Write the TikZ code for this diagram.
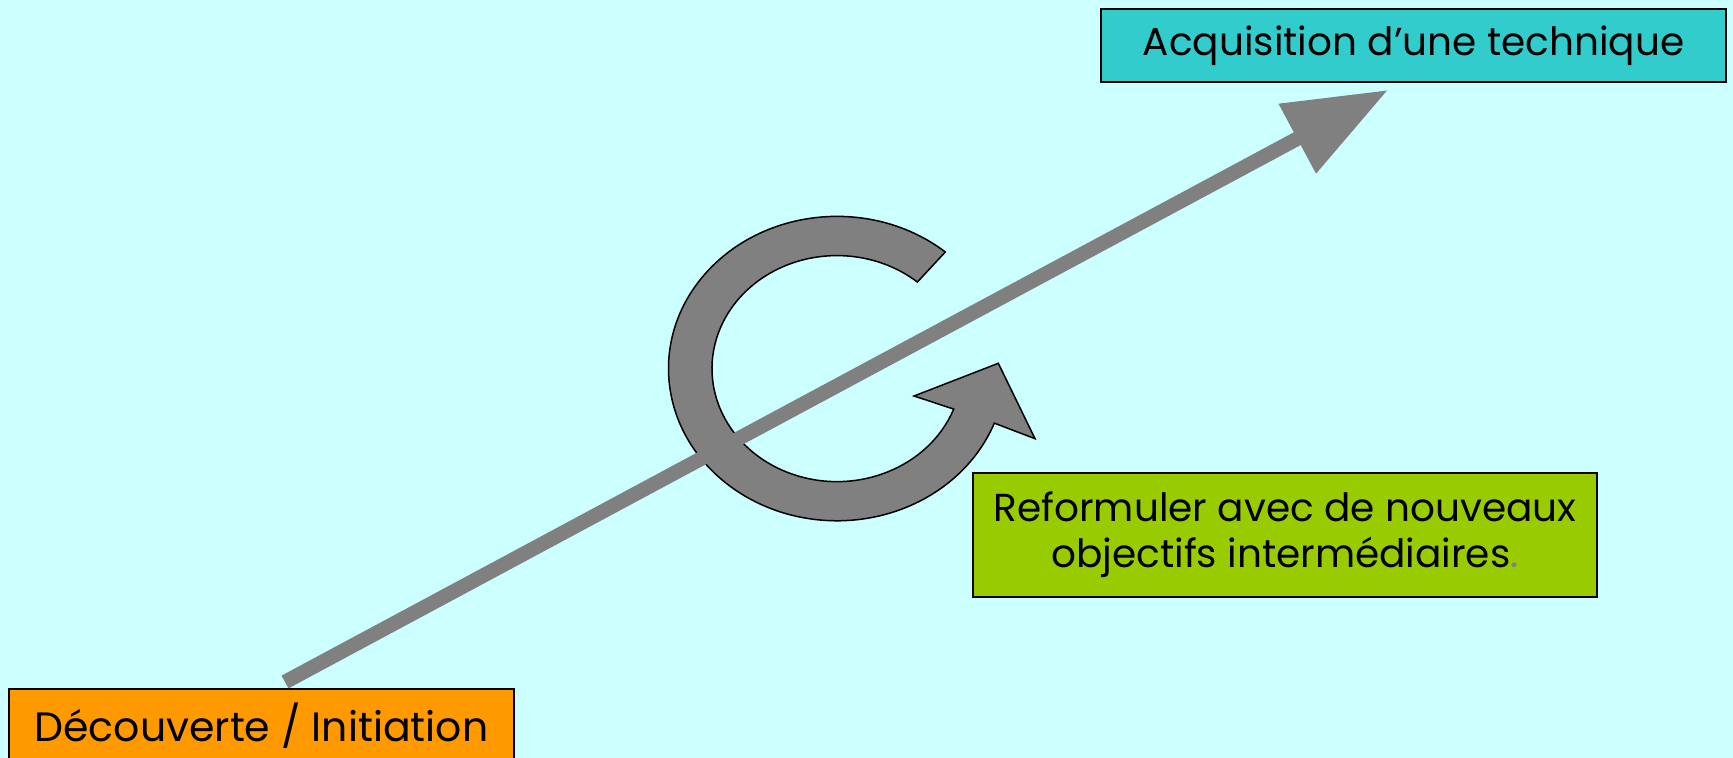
\documentclass[tikz,border=0pt]{standalone}
\usepackage{fontspec}
\setmainfont{Poppins}
\usetikzlibrary{arrows.meta}
\definecolor{bgcyan}{HTML}{CCFFFF}
\definecolor{topcyan}{HTML}{33CCCC}
\definecolor{limegreen}{HTML}{99CC00}
\definecolor{boxorange}{HTML}{FF9900}
\definecolor{arrowgray}{HTML}{808080}
\begin{document}
\begin{tikzpicture}[x=0.5pt,y=-0.5pt,
  box/.style={draw=black,line width=1pt,inner sep=0pt,align=center,
    font=\fontsize{19.5}{23}\selectfont},
  loop/.style={fill=arrowgray,draw=black,line width=0.75pt,line join=miter},
  mainarrow/.style={draw=arrowgray,line width=7.25pt,line cap=butt,
    -{Triangle[length=51.5pt,width=37.6pt]}}]
\fill[bgcyan] (0,0) rectangle (1733,758);
\useasboundingbox (0,0) rectangle (1733,758);
\clip (0,0) rectangle (1733,758);
\node[box,fill=topcyan,minimum width=312.5pt,minimum height=36.5pt] (acq) at (1413.5,45.5) {Acquisition d’une technique};
\node[box,fill=limegreen,minimum width=312pt,minimum height=62pt] (ref) at (1285,535) {Reformuler avec de nouveaux\\objectifs intermédiaires{\color{arrowgray}.}};
\node[box,fill=boxorange,minimum width=252.5pt,minimum height=36.5pt,
  font=\fontsize{20.5}{23}\selectfont] (dec) at (261.5,725.5) {Découverte / Initiation};
\filldraw[loop] (945.3,252) arc[start angle=50,end angle=339,x radius=84.25pt,y radius=76.1pt]
  -- (1035,438.7) -- (998.3,363.3) -- (914,396) -- (953.7,409.1)
  arc[start angle=339,end angle=50,x radius=62.5pt,y radius=56.5pt] -- cycle;
\coordinate (tail) at (285,682);
\coordinate (tip) at (1388,90);
\draw[mainarrow] (tail) -- (tip);
\end{tikzpicture}
\end{document}
